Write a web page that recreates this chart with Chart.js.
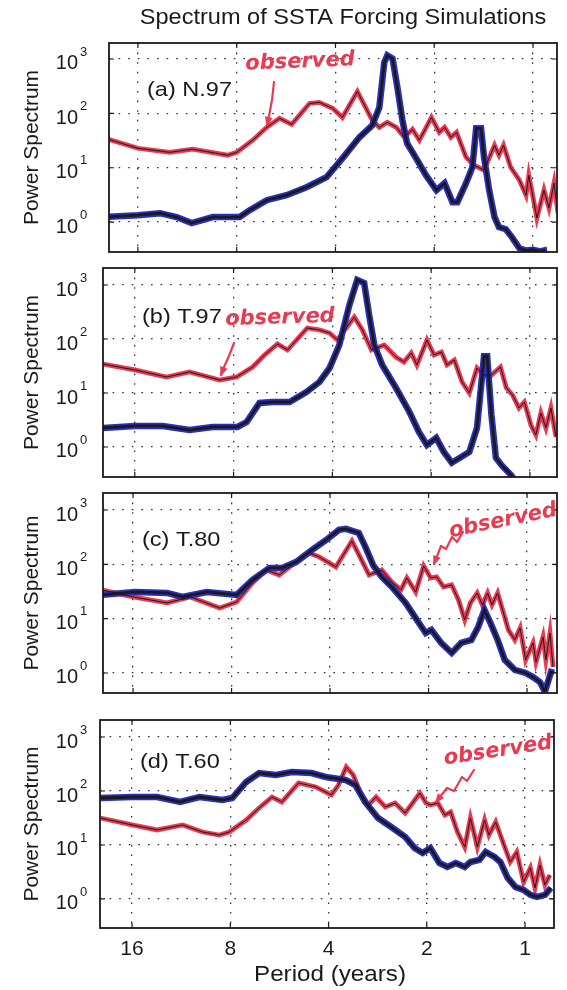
<!DOCTYPE html>
<html>
<head>
<meta charset="utf-8">
<script src="https://cdn.jsdelivr.net/npm/chart.js@4.4.1/dist/chart.umd.min.js"></script>
<style>
  html, body { margin: 0; padding: 0; background: #fff; }
  #wrap { position: relative; width: 567px; height: 990px; }
  #wrap canvas { position: absolute; left: 0; top: 0; }
</style>
</head>
<body>
<div id="wrap">
  <canvas id="panelA" width="567" height="990"></canvas>
  <canvas id="panelB" width="567" height="990"></canvas>
  <canvas id="panelC" width="567" height="990"></canvas>
  <canvas id="panelD" width="567" height="990"></canvas>
</div>
<script>
// tick values (period in years, power)
const periodTicks = [16, 8, 4, 2, 1];
const powerTicks = [1, 10, 100, 1000];

// (a) N.97
const periodObsA = [20, 16, 12.8, 10.9, 8.52, 8.0, 7.15, 6.48, 5.92, 5.44, 4.80, 4.48, 4.08, 3.81, 3.43, 3.09, 2.94, 2.78, 2.61, 2.47, 2.33, 2.22, 2.04, 1.93, 1.86, 1.78, 1.71, 1.60, 1.51, 1.41, 1.31, 1.27, 1.23, 1.17, 1.10, 1.05, 1.03, 1.0, 0.973, 0.926, 0.894, 0.863, 0.839];
const powerObsA = [34.3, 22.8, 19.2, 21.9, 17.0, 19.2, 32.0, 55.3, 81, 62.8, 152, 159, 124, 84.5, 253, 74.4, 55.3, 68.4, 55.3, 36.3, 50.9, 32.0, 84.5, 44.8, 55.3, 36.3, 44.8, 15.6, 11.1, 9.0, 25.9, 17.0, 25.9, 10.2, 5.9, 3.12, 7.28, 2.88, 1.18, 3.87, 1.81, 5.19, 1.46];
const periodSimA = [20, 16, 13.7, 12.2, 10.97, 9.46, 7.83, 7.30, 6.48, 5.64, 4.90, 4.26, 3.81, 3.38, 3.09, 2.94, 2.84, 2.78, 2.68, 2.59, 2.50, 2.42, 2.27, 2.12, 1.97, 1.86, 1.76, 1.70, 1.60, 1.53, 1.49, 1.44, 1.41, 1.36, 1.31, 1.27, 1.21, 1.16, 1.10, 1.05, 1.0, 0.95, 0.926, 0.91];
const powerSimA = [1.24, 1.34, 1.46, 1.24, 0.96, 1.24, 1.24, 1.66, 2.53, 3.13, 4.39, 6.69, 14.9, 36.3, 60.2, 129, 862, 1160, 1020, 300, 74.4, 28.2, 14.9, 7.28, 3.87, 5.19, 2.33, 2.33, 5.19, 10.2, 53.1, 53.1, 15.6, 3.87, 1.24, 0.81, 0.74, 0.53, 0.33, 0.30, 0.31, 0.29, 0.30, 0.15];

// (b) T.97
const periodObsB = [20, 16, 12.8, 10.9, 8.82, 7.83, 7.0, 6.44, 5.88, 5.48, 4.77, 4.38, 4.08, 3.86, 3.43, 3.24, 3.04, 2.88, 2.78, 2.56, 2.42, 2.30, 2.21, 2.06, 1.96, 1.86, 1.79, 1.70, 1.61, 1.53, 1.45, 1.38, 1.31, 1.23, 1.18, 1.13, 1.08, 1.04, 0.993, 0.959, 0.926, 0.894, 0.863, 0.833];
const powerObsB = [34.4, 26.7, 19.8, 24.5, 17.4, 19.8, 30.3, 50.6, 80.8, 62.6, 160, 147, 129, 95.8, 255, 147, 62.6, 71.1, 77.4, 46.4, 37.5, 55.1, 33.0, 95.8, 50.6, 57.4, 33.0, 40.8, 16.0, 10.0, 29.0, 21.5, 21.5, 30.3, 12.4, 9.18, 5.28, 6.81, 2.55, 1.67, 4.26, 2.25, 5.28, 1.53];
const periodSimB = [20, 16, 13.15, 10.9, 9.27, 7.78, 7.30, 6.67, 6.09, 5.40, 4.80, 4.38, 4.08, 3.81, 3.55, 3.36, 3.20, 3.09, 2.98, 2.82, 2.56, 2.33, 2.18, 2.06, 1.93, 1.83, 1.73, 1.62, 1.53, 1.45, 1.38, 1.35, 1.31, 1.27, 1.22, 1.14, 1.09];
const powerSimB = [2.25, 2.45, 2.45, 2.06, 2.35, 2.35, 2.90, 6.53, 6.81, 6.81, 10.4, 16.0, 29.0, 77.4, 426, 1240, 1090, 278, 77.4, 33.0, 12.4, 4.45, 1.90, 1.09, 1.47, 0.81, 0.51, 0.65, 0.81, 2.25, 48, 48, 3.91, 0.63, 0.46, 0.30, 0.2];

// (c) T.80
const periodObsC = [20, 16, 12.6, 10.7, 8.70, 7.72, 6.91, 6.26, 5.72, 5.22, 4.63, 4.32, 3.84, 3.43, 3.04, 2.78, 2.59, 2.43, 2.33, 2.19, 2.07, 1.97, 1.89, 1.80, 1.70, 1.62, 1.55, 1.49, 1.42, 1.37, 1.32, 1.28, 1.23, 1.14, 1.09, 1.05, 1.01, 0.959, 0.939, 0.894, 0.876, 0.851, 0.833];
const powerObsC = [33.8, 25.1, 19.5, 25.1, 15.7, 20.3, 45.4, 78.8, 63.8, 97.5, 162, 137, 89.6, 270, 63.8, 78.8, 47.4, 33.8, 56.2, 31.0, 93.5, 56.2, 58.6, 38.4, 41.8, 22.1, 9.46, 19.5, 29.7, 17.9, 29.7, 17.9, 29.7, 6.19, 4.05, 6.74, 1.74, 3.57, 1.59, 4.60, 1.74, 5.45, 1.29];
const periodSimC = [20, 15.8, 12.6, 11.3, 9.53, 7.72, 6.91, 6.13, 5.60, 5.07, 4.54, 4.11, 3.76, 3.58, 3.27, 3.12, 2.95, 2.78, 2.59, 2.35, 2.14, 2.04, 1.96, 1.83, 1.70, 1.59, 1.48, 1.41, 1.35, 1.29, 1.23, 1.17, 1.09, 1.01, 0.959, 0.913, 0.882, 0.845, 0.827];
const powerSimC = [27.3, 31.0, 29.7, 25.1, 31.0, 27.3, 51.6, 85.9, 85.9, 111, 184, 281, 430, 449, 378, 209, 95, 58.6, 38.4, 19.5, 8.33, 5.45, 6.19, 3.57, 2.34, 3.57, 4.05, 7.03, 14.5, 8.0, 4.05, 1.74, 1.14, 1.0, 0.84, 0.68, 0.45, 1.04, 1.0];

// (d) T.60
const periodObsD = [20, 16, 13.4, 11.2, 9.73, 8.64, 8.06, 7.15, 6.53, 5.96, 5.56, 4.94, 4.38, 3.92, 3.73, 3.53, 3.36, 3.20, 3.02, 2.86, 2.68, 2.50, 2.33, 2.21, 2.10, 2.01, 1.95, 1.85, 1.76, 1.69, 1.61, 1.53, 1.47, 1.40, 1.33, 1.29, 1.23, 1.16, 1.11, 1.06, 1.01, 0.963, 0.932, 0.900, 0.869, 0.839];
const powerObsD = [31.6, 23.5, 19.0, 23.5, 17.4, 15.3, 17.4, 29.0, 48.4, 77.4, 62.6, 141, 119, 84.3, 129, 278, 198, 95.8, 55.1, 77.4, 50.6, 59.9, 39.1, 59.9, 91.8, 59.9, 55.1, 59.9, 35.9, 40.8, 17.4, 9.18, 31.6, 9.18, 29.0, 15.3, 26.7, 10.0, 4.84, 7.42, 2.06, 3.75, 1.60, 4.26, 1.82, 2.78];
const periodSimD = [20, 16, 13.4, 11.4, 9.94, 8.46, 7.89, 7.15, 6.53, 5.80, 5.18, 4.51, 4.08, 3.55, 3.31, 3.09, 2.82, 2.57, 2.33, 2.18, 2.06, 1.95, 1.83, 1.73, 1.63, 1.53, 1.47, 1.38, 1.32, 1.24, 1.19, 1.13, 1.07, 1.01, 0.963, 0.919, 0.869, 0.833];
const powerSimD = [74.1, 77.4, 77.4, 62.6, 77.4, 68.1, 74.1, 147, 215, 198, 225, 215, 182, 160, 129, 62.6, 31.6, 21.5, 14.1, 8.80, 7.11, 8.80, 4.64, 3.91, 4.64, 3.91, 4.84, 5.28, 7.42, 5.99, 4.84, 2.45, 1.67, 1.47, 1.19, 1.09, 1.19, 1.60];

const RED = '#ea3a52';
const BLUE = '#2a2fc0';
const INK = '#1a1a1a';

// where each panel sits on the page (scan is slightly skewed, so they differ a bit)
const panels = [
  { id: 'panelA', box: [109, 43, 557, 252], xr: [0.845, 19.6], yr: [0.282, 1967], label: '(a) N.97', labelAt: [147, 90],
    obsP: periodObsA, obsV: powerObsA, simP: periodSimA, simV: powerSimA,
    note: { at: [300, 62], rot: -0.04, path: [[274, 82], [272, 100], [269, 116], [267, 125]] } },
  { id: 'panelB', box: [103, 268, 557, 477], xr: [0.827, 20.0], yr: [0.278, 2065], label: '(b) T.97', labelAt: [142, 317],
    obsP: periodObsB, obsV: powerObsB, simP: periodSimB, simV: powerSimB,
    note: { at: [280, 318], rot: -0.03, path: [[234, 343], [229, 356], [224, 367], [221, 375]] } },
  { id: 'panelC', box: [103, 493, 557, 693], xr: [0.810, 19.77], yr: [0.428, 2055], label: '(c) T.80', labelAt: [142, 540],
    obsP: periodObsC, obsV: powerObsC, simP: periodSimC, simV: powerSimC,
    note: { at: [503, 521], rot: -0.2, path: [[463, 532], [457, 542], [452, 537], [446, 549], [441, 546], [434, 564]] } },
  { id: 'panelD', box: [100, 720, 554, 928], xr: [0.815, 20.06], yr: [0.290, 2065], label: '(d) T.60', labelAt: [140, 762],
    obsP: periodObsD, obsV: powerObsD, simP: periodSimD, simV: powerSimD,
    note: { at: [498, 751], rot: -0.15, path: [[474, 770], [467, 781], [462, 777], [454, 791], [447, 788], [436, 802]] },
    bottom: true }
];

function put(ctx, str, x, y, font, align, sx) {
  ctx.save();
  ctx.translate(x, y);
  ctx.scale(sx || 1, 1);
  ctx.font = font;
  ctx.textAlign = align;
  ctx.textBaseline = 'middle';
  ctx.fillText(str, 0, 0);
  ctx.restore();
}

// frame, matlab style ticks, labels and the handwritten notes
const panelExtras = {
  id: 'panelExtras',
  afterDraw(chart, args, p) {
    const ctx = chart.ctx;
    const { left, top, right, bottom } = chart.chartArea;
    const xs = chart.scales.x, ys = chart.scales.y;
    ctx.save();
    ctx.strokeStyle = INK;
    ctx.fillStyle = INK;
    ctx.lineWidth = 1.8;
    ctx.strokeRect(left, top, right - left, bottom - top);
    ctx.lineWidth = 1.2;
    ctx.beginPath();
    periodTicks.forEach(v => {
      const px = xs.getPixelForValue(v);
      ctx.moveTo(px, bottom); ctx.lineTo(px, bottom - 5);
      ctx.moveTo(px, top); ctx.lineTo(px, top + 5);
    });
    powerTicks.forEach(v => {
      const py = ys.getPixelForValue(v);
      ctx.moveTo(left, py); ctx.lineTo(left + 5, py);
      ctx.moveTo(right, py); ctx.lineTo(right - 5, py);
    });
    ctx.stroke();

    // y tick labels 10^k
    powerTicks.forEach(v => {
      const py = ys.getPixelForValue(v);
      put(ctx, '10', 78, py + 5, '20px "Liberation Sans"', 'right');
      put(ctx, String(Math.round(Math.log10(v))), 80, py - 7, '13px "Liberation Sans"', 'left');
    });

    // y title
    ctx.save();
    ctx.translate(32, (top + bottom) / 2);
    ctx.rotate(-Math.PI / 2);
    put(ctx, 'Power Spectrum', 0, 0, '21px "Liberation Sans"', 'center');
    ctx.restore();

    put(ctx, p.label, p.labelAt[0], p.labelAt[1], '21px "Liberation Sans"', 'left', 1.12);

    if (p.id === 'panelA') {
      put(ctx, 'Spectrum of SSTA Forcing Simulations', 343, 18, '22px "Liberation Sans"', 'center', 1.07);
    }
    if (p.bottom) {
      periodTicks.forEach(v => {
        put(ctx, String(v), xs.getPixelForValue(v), 949, '21px "Liberation Sans"', 'center');
      });
      put(ctx, 'Period (years)', 330, 975, '22px "Liberation Sans"', 'center', 1.1);
    }

    // red "observed" note with arrow
    const n = p.note;
    ctx.fillStyle = RED;
    ctx.strokeStyle = RED;
    ctx.save();
    ctx.translate(n.at[0], n.at[1]);
    ctx.rotate(n.rot);
    put(ctx, 'observed', 0, 0, 'italic bold 21px "DejaVu Sans"', 'center');
    ctx.restore();
    ctx.lineWidth = 2.2;
    ctx.lineCap = 'round';
    ctx.lineJoin = 'round';
    ctx.beginPath();
    n.path.forEach(([x, y], i) => i ? ctx.lineTo(x, y) : ctx.moveTo(x, y));
    ctx.stroke();
    const [x1, y1] = n.path[n.path.length - 2];
    const [x2, y2] = n.path[n.path.length - 1];
    const ang = Math.atan2(y2 - y1, x2 - x1);
    ctx.beginPath();
    ctx.moveTo(x2 + 2 * Math.cos(ang), y2 + 2 * Math.sin(ang));
    ctx.lineTo(x2 - 9 * Math.cos(ang - 0.45), y2 - 9 * Math.sin(ang - 0.45));
    ctx.lineTo(x2 - 9 * Math.cos(ang + 0.45), y2 - 9 * Math.sin(ang + 0.45));
    ctx.closePath();
    ctx.fill();
    ctx.restore();
  }
};

function pts(periods, powers) {
  return periods.map((p, i) => ({ x: p, y: powers[i] }));
}

panels.forEach(p => {
  const [bl, bt, br, bb] = p.box;
  const obs = pts(p.obsP, p.obsV);
  const sim = pts(p.simP, p.simV);
  const line = (data, color, width) => ({
    data, borderColor: color, borderWidth: width, pointRadius: 0, tension: 0, fill: false, clip: 0
  });
  new Chart(document.getElementById(p.id), {
    type: 'line',
    data: {
      // first one ends up on top
      datasets: [
        line(sim, INK, 2.8),
        line(obs, INK, 1.0),
        line(sim, BLUE, 6.5),
        line(obs, RED, 4.8)
      ]
    },
    options: {
      responsive: false,
      animation: false,
      events: [],
      layout: { autoPadding: false, padding: { left: bl, top: bt, right: 567 - br, bottom: 990 - bb } },
      plugins: { legend: { display: false }, tooltip: { enabled: false }, panelExtras: p },
      scales: {
        x: {
          type: 'logarithmic', reverse: true, min: p.xr[0], max: p.xr[1],
          afterBuildTicks: s => { s.ticks = periodTicks.map(v => ({ value: v })); },
          ticks: { display: false },
          grid: { color: '#333', lineWidth: 1.3, drawTicks: false },
          border: { display: false, dash: [1.6, 8] }
        },
        y: {
          type: 'logarithmic', min: p.yr[0], max: p.yr[1],
          afterBuildTicks: s => { s.ticks = powerTicks.map(v => ({ value: v })); },
          ticks: { display: false },
          grid: { color: '#333', lineWidth: 1.3, drawTicks: false },
          border: { display: false, dash: [1.6, 8] }
        }
      }
    },
    plugins: [panelExtras]
  });
});
</script>
</body>
</html>
